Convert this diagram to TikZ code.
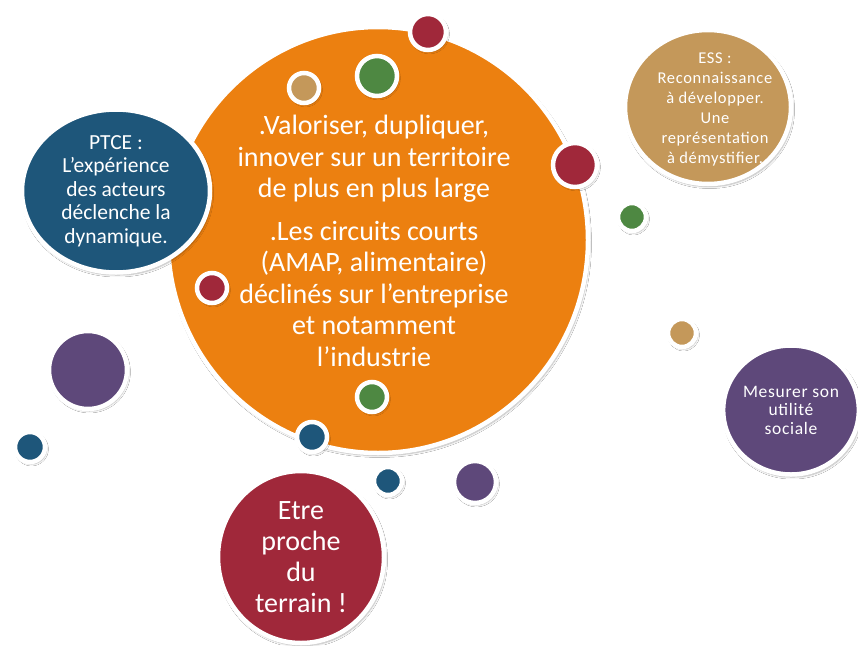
\documentclass[tikz,border=0pt]{standalone}
\usepackage{fontspec}
\setmainfont{Carlito}
\newfontfamily\spacedfont[LetterSpace=4]{Carlito}
\usetikzlibrary{shapes.geometric,shadows.blur}
\definecolor{corange}{RGB}{236,128,16}
\definecolor{cblue}{RGB}{30,86,122}
\definecolor{ctan}{RGB}{196,152,90}
\definecolor{cpurple}{RGB}{94,72,122}
\definecolor{cred}{RGB}{160,40,58}
\definecolor{cgreen}{RGB}{78,136,66}
\tikzset{
  bub/.style={ellipse, draw=white, line width=4.5pt, inner sep=0pt, text=white, align=center,
    blur shadow={shadow blur steps=6, shadow xshift=1.5pt, shadow yshift=-2.5pt, shadow opacity=30, shadow blur extra rounding=2pt}},
  dot/.style={circle, draw=white, line width=4.5pt, inner sep=0pt, minimum size=#1,
    blur shadow={shadow blur steps=5, shadow xshift=1.5pt, shadow yshift=-2pt, shadow opacity=30}},
  bubtext/.style={text=white, align=center, inner sep=0pt},
}
\begin{document}
\begin{tikzpicture}[x=1pt,y=-1pt]
\useasboundingbox[fill=white] (0,0) rectangle (858,645);
% main orange bubble
\node[bub, fill=corange, minimum width=420pt, minimum height=426pt] (main) at (378,240) {};
\node[bubtext, font=\fontsize{28}{31.5}\selectfont] (maintext) at (374,241)
  {.Valoriser, dupliquer,\\innover sur un territoire\\de plus en plus large\\[11pt]
   .Les circuits courts\\(AMAP, alimentaire)\\déclinés sur l’entreprise\\et notamment\\l’industrie};
% big satellites
\node[bub, fill=cblue, minimum width=188pt, minimum height=163pt,
  font=\fontsize{21.5}{23.5}\selectfont] (ptce) at (116,191)
  {PTCE :\\L’expérience\\des acteurs\\déclenche la\\dynamique.};
\node[bub, fill=ctan, minimum width=166pt, minimum height=154pt] (ess) at (708,107) {};
\node[bubtext, font=\spacedfont\fontsize{16.5}{20}\selectfont] (esstext) at (715,109)
  {ESS :\\Reconnaissance\\à développer.\\Une\\représentation\\à démystifier.};
\node[bub, fill=cpurple, minimum width=130pt, minimum height=129pt,
  font=\spacedfont\fontsize{17.5}{18.5}\selectfont] (mes) at (791,410)
  {Mesurer son\\utilité\\sociale};
\node[bub, fill=cred, minimum width=166pt, minimum height=172pt,
  font=\fontsize{28}{31}\selectfont] (etre) at (301,557)
  {Etre\\proche\\du\\terrain !};
% small dots
\node[dot=36pt, fill=cred]    (d1)  at (428,32) {};
\node[dot=40pt, fill=cgreen]  (d2)  at (377,76) {};
\node[dot=30pt, fill=ctan]    (d3)  at (304,88) {};
\node[dot=44pt, fill=cred]    (d4)  at (575,165) {};
\node[dot=30pt, fill=cred]    (d5)  at (212,288) {};
\node[dot=30pt, fill=cgreen]  (d6)  at (372,397) {};
\node[dot=30pt, fill=cblue]   (d7)  at (312,437) {};
\node[dot=28pt, fill=cgreen]  (d8)  at (632,217) {};
\node[dot=28pt, fill=ctan]    (d9)  at (682,333) {};
\node[dot=78pt, fill=cpurple] (d10) at (88,370) {};
\node[dot=30pt, fill=cblue]   (d11) at (30,447) {};
\node[dot=28pt, fill=cblue]   (d12) at (388,481) {};
\node[dot=42pt, fill=cpurple] (d13) at (475,482) {};
\end{tikzpicture}
\end{document}
